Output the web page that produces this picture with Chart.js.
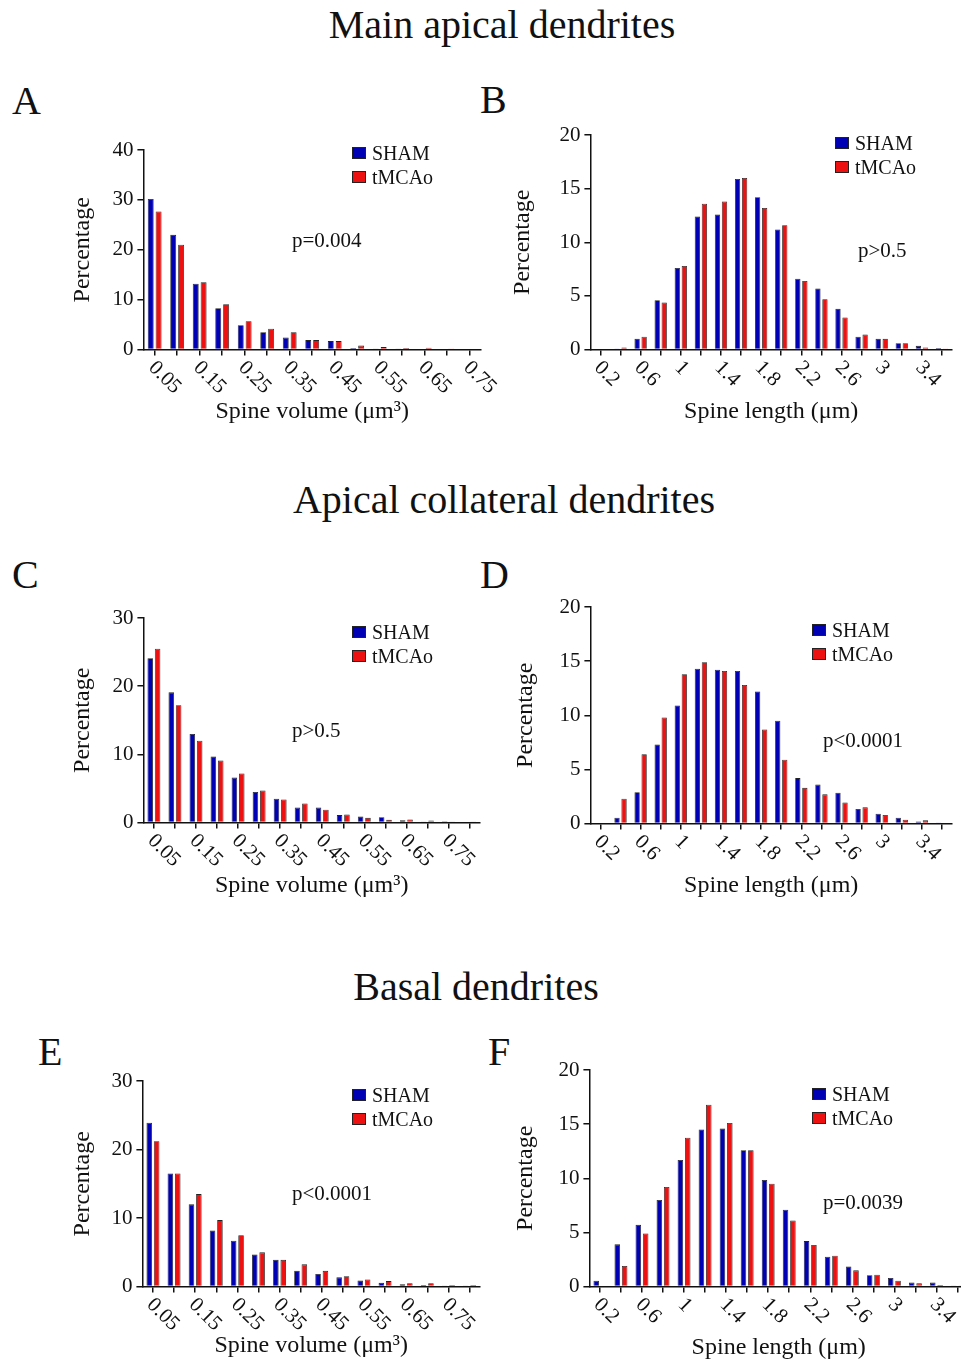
<!DOCTYPE html>
<html>
<head>
<meta charset="utf-8">
<script src="https://cdn.jsdelivr.net/npm/chart.js"></script>
<style>
  html, body { margin: 0; padding: 0; background: #fff; overflow: hidden; }
  body { width: 961px; height: 1361px; position: relative; font-family: 'Liberation Serif', 'Times New Roman', serif; color: #111; }
  .abs { position: absolute; white-space: nowrap; line-height: 1; }
  .section { font-size: 40px; transform: translate(-50%, -50%); }
  .letter { font-size: 40px; transform: translateY(-50%); }
  .pval { font-size: 21px; transform: translateY(-50%); }
  .leg { font-size: 20px; transform: translateY(-50%); }
  .sw { position: absolute; width: 14px; height: 12px; border: 1px solid #222; box-sizing: border-box; transform: translateY(-50%); }
  canvas { position: absolute; }
</style>
</head>
<body>

<div class="abs section" style="left:502px; top:25px;">Main apical dendrites</div>
<div class="abs section" style="left:504px; top:500px;">Apical collateral dendrites</div>
<div class="abs section" style="left:476px; top:987px;">Basal dendrites</div>

<div class="abs letter" style="left:12px; top:101px;">A</div>
<div class="abs letter" style="left:480px; top:100px;">B</div>
<div class="abs letter" style="left:12px; top:575px;">C</div>
<div class="abs letter" style="left:480px; top:575px;">D</div>
<div class="abs letter" style="left:38px; top:1052px;">E</div>
<div class="abs letter" style="left:488px; top:1052px;">F</div>

<canvas id="chartA"></canvas>
<canvas id="chartB"></canvas>
<canvas id="chartC"></canvas>
<canvas id="chartD"></canvas>
<canvas id="chartE"></canvas>
<canvas id="chartF"></canvas>

<script>
// bins (x categories)
const volumeBins15 = ['0.05', '0.1', '0.15', '0.2', '0.25', '0.3', '0.35', '0.4', '0.45', '0.5', '0.55', '0.6', '0.65', '0.7', '0.75'];
const volumeBins16 = ['0.05', '0.1', '0.15', '0.2', '0.25', '0.3', '0.35', '0.4', '0.45', '0.5', '0.55', '0.6', '0.65', '0.7', '0.75', '0.8'];
const lengthBins = ['0.2', '0.4', '0.6', '0.8', '1', '1.2', '1.4', '1.6', '1.8', '2', '2.2', '2.4', '2.6', '2.8', '3', '3.2', '3.4', '3.6'];

// A - main apical, spine volume
const shamA  = [30.2, 23.0, 13.2, 8.3, 4.9, 3.5, 2.4, 1.9, 1.7, 0.3, 0.2, 0.2, 0, 0, 0];
const tmcaoA = [27.7, 21.0, 13.5, 9.1, 5.7, 4.2, 3.5, 1.9, 1.7, 0.8, 0.5, 0.3, 0.35, 0.1, 0];
// B - main apical, spine length
const shamB  = [0, 0.05, 1.0, 4.6, 7.6, 12.4, 12.6, 15.9, 14.2, 11.2, 6.6, 5.7, 3.8, 1.2, 1.0, 0.6, 0.35, 0.15];
const tmcaoB = [0, 0.2, 1.2, 4.4, 7.8, 13.6, 13.8, 16.0, 13.2, 11.6, 6.4, 4.7, 3.0, 1.4, 1.0, 0.6, 0.2, 0.05];
// C - apical collateral, spine volume
const shamC  = [24.1, 19.1, 13.0, 9.7, 6.6, 4.5, 3.5, 2.2, 2.2, 1.1, 0.9, 0.8, 0.35, 0.15, 0.2, 0];
const tmcaoC = [25.5, 17.2, 12.0, 9.1, 7.2, 4.7, 3.4, 2.8, 1.9, 1.2, 0.7, 0.4, 0.45, 0.3, 0.05, 0.05];
// D - apical collateral, spine length
const shamD  = [0, 0.55, 2.9, 7.3, 10.9, 14.3, 14.2, 14.1, 12.2, 9.5, 4.2, 3.6, 2.85, 1.35, 0.92, 0.55, 0.2, 0.05];
const tmcaoD = [0, 2.3, 6.4, 9.8, 13.8, 14.9, 14.1, 12.8, 8.7, 5.9, 3.3, 2.7, 1.95, 1.5, 0.8, 0.35, 0.3, 0];
// E - basal, spine volume
const shamE  = [23.9, 16.5, 12.0, 8.2, 6.7, 4.7, 3.9, 2.3, 1.85, 1.35, 0.9, 0.55, 0.35, 0.25, 0.15, 0.1];
const tmcaoE = [21.2, 16.5, 13.5, 9.7, 7.5, 5.0, 3.9, 3.25, 2.3, 1.5, 1.05, 0.8, 0.5, 0.5, 0.25, 0.25];
// F - basal, spine length
const shamF  = [0.55, 3.9, 5.7, 8.0, 11.7, 14.5, 14.6, 12.6, 9.85, 7.1, 4.2, 2.75, 1.85, 1.05, 0.8, 0.37, 0.37, 0.05];
const tmcaoF = [0, 1.9, 4.9, 9.2, 13.75, 16.8, 15.1, 12.6, 9.5, 6.1, 3.85, 2.85, 1.5, 1.1, 0.55, 0.3, 0.15, 0.1];

const pValues = ['p=0.004', 'p>0.5', 'p>0.5', 'p<0.0001', 'p<0.0001', 'p=0.0039'];
const groupNames = ['SHAM', 'tMCAo'];

const BLUE = '#0000b4';
const RED = '#ee1111';
const FONT = "'Liberation Serif', 'Times New Roman', serif";
const volTitle = 'Spine volume (\u03bcm\u00b3)';
const lenTitle = 'Spine length (\u03bcm)';

// plot rect = [left, top, right, bottom] of axes, plus label placements
const panels = [
  { id: 'chartA', bins: volumeBins15, sham: shamA, tmcao: tmcaoA, yMax: 40, yStep: 10, xTitle: volTitle,
    rect: [143, 150, 481, 350], yTitleX: 82, xTitleY: 412, p: [292, 240], leg: [352, 153] },
  { id: 'chartB', bins: lengthBins, sham: shamB, tmcao: tmcaoB, yMax: 20, yStep: 5, xTitle: lenTitle,
    rect: [590, 135, 952, 350], yTitleX: 522, xTitleY: 412, p: [858, 250], leg: [835, 143] },
  { id: 'chartC', bins: volumeBins16, sham: shamC, tmcao: tmcaoC, yMax: 30, yStep: 10, xTitle: volTitle,
    rect: [143, 618, 480, 823], yTitleX: 82, xTitleY: 886, p: [292, 730], leg: [352, 632] },
  { id: 'chartD', bins: lengthBins, sham: shamD, tmcao: tmcaoD, yMax: 20, yStep: 5, xTitle: lenTitle,
    rect: [590, 607, 952, 824], yTitleX: 525, xTitleY: 886, p: [823, 740], leg: [812, 630] },
  { id: 'chartE', bins: volumeBins16, sham: shamE, tmcao: tmcaoE, yMax: 30, yStep: 10, xTitle: volTitle,
    rect: [142, 1081, 480, 1287], yTitleX: 82, xTitleY: 1346, p: [292, 1193], leg: [352, 1095] },
  { id: 'chartF', bins: lengthBins, sham: shamF, tmcao: tmcaoF, yMax: 20, yStep: 5, xTitle: lenTitle,
    rect: [589, 1070, 968, 1287], yTitleX: 525, xTitleY: 1348, p: [823, 1202], leg: [812, 1094] }
];

// x tick labels drawn slanted downward (every other bin)
const slantTicks = {
  id: 'slantTicks',
  afterDraw(chart) {
    const sc = chart.scales.x;
    const ctx = chart.ctx;
    ctx.save();
    ctx.font = '21px ' + FONT;
    ctx.fillStyle = '#111';
    ctx.textAlign = 'left';
    ctx.textBaseline = 'middle';
    chart.data.labels.forEach((lab, i) => {
      if (i % 2) return;
      ctx.save();
      ctx.translate(sc.getPixelForValue(i) - 3, sc.top + 15);
      ctx.rotate(Math.PI / 4);
      ctx.fillText(lab, 0, 0);
      ctx.restore();
    });
    ctx.restore();
  }
};

function addText(cls, x, y, text) {
  const d = document.createElement('div');
  d.className = 'abs ' + cls;
  d.style.left = x + 'px';
  d.style.top = y + 'px';
  d.textContent = text;
  document.body.appendChild(d);
}

function addSwatch(x, y, color) {
  const d = document.createElement('div');
  d.className = 'sw';
  d.style.left = x + 'px';
  d.style.top = y + 'px';
  d.style.background = color;
  document.body.appendChild(d);
}

const TITLE_LH = 24 * 1.2;
const PAD_TOP = 20, PAD_RIGHT = 40;

panels.forEach((pn, k) => {
  const [l, t, r, b] = pn.rect;
  const left = pn.yTitleX - TITLE_LH / 2;
  const top = t - PAD_TOP;
  const yw = l - left;
  const xh = pn.xTitleY + TITLE_LH / 2 - b;
  const w = Math.round(r + PAD_RIGHT - left);
  const h = Math.round(pn.xTitleY + TITLE_LH / 2 - top);

  const cv = document.getElementById(pn.id);
  cv.width = w;
  cv.height = h;
  cv.style.width = w + 'px';
  cv.style.height = h + 'px';
  cv.style.left = left + 'px';
  cv.style.top = top + 'px';

  new Chart(cv, {
    type: 'bar',
    data: {
      labels: pn.bins,
      datasets: [
        { label: groupNames[0], data: pn.sham, backgroundColor: BLUE, borderColor: '#222', borderWidth: 0.8 },
        { label: groupNames[1], data: pn.tmcao, backgroundColor: RED, borderColor: '#222', borderWidth: 0.8 }
      ]
    },
    options: {
      responsive: false,
      animation: false,
      layout: { padding: { top: PAD_TOP, right: PAD_RIGHT, bottom: 0, left: 0 } },
      datasets: { bar: { categoryPercentage: 0.7, barPercentage: 0.75 } },
      plugins: { legend: { display: false }, tooltip: { enabled: false } },
      scales: {
        x: {
          offset: true,
          grid: { offset: false, drawOnChartArea: false, drawTicks: true, tickLength: 6, color: '#111', lineWidth: 1.5 },
          border: { display: true, color: '#111', width: 1.5 },
          ticks: { autoSkip: false, maxRotation: 0, minRotation: 0, callback: () => '' },
          title: { display: true, text: pn.xTitle, color: '#111', font: { family: FONT, size: 24 }, padding: 0 },
          afterFit: (s) => { s.height = xh; }
        },
        y: {
          min: 0,
          max: pn.yMax,
          grid: { drawOnChartArea: false, drawTicks: true, tickLength: 6, color: '#111', lineWidth: 1.5 },
          border: { display: true, color: '#111', width: 1.5 },
          ticks: { stepSize: pn.yStep, color: '#111', padding: 4, font: { family: FONT, size: 21 } },
          title: { display: true, text: 'Percentage', color: '#111', font: { family: FONT, size: 24 }, padding: 0 },
          afterFit: (s) => { s.width = yw; }
        }
      }
    },
    plugins: [slantTicks]
  });

  addText('pval', pn.p[0], pn.p[1], pValues[k]);
  addSwatch(pn.leg[0], pn.leg[1], BLUE);
  addSwatch(pn.leg[0], pn.leg[1] + 24, RED);
  addText('leg', pn.leg[0] + 20, pn.leg[1], groupNames[0]);
  addText('leg', pn.leg[0] + 20, pn.leg[1] + 24, groupNames[1]);
});
</script>
</body>
</html>
